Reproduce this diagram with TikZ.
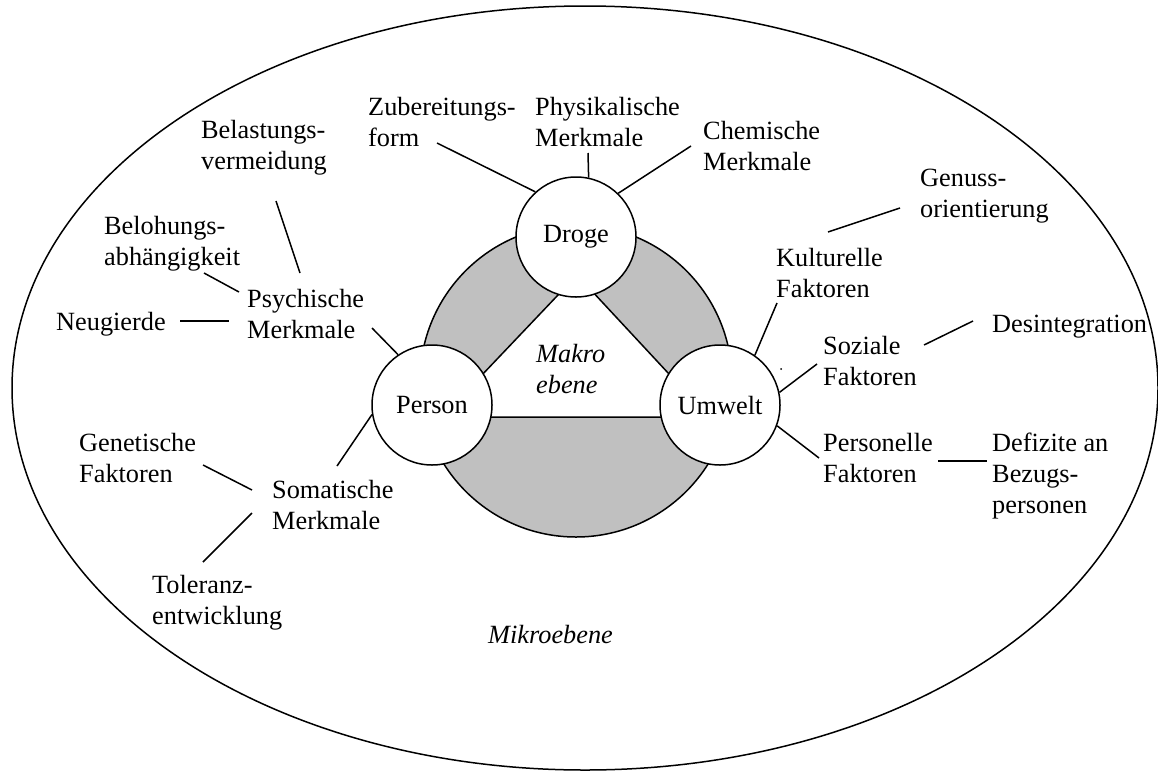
\documentclass[tikz,border=0pt]{standalone}
\usepackage{fontspec}
\setmainfont{Liberation Serif}
\definecolor{ringgray}{RGB}{192,192,192}
\begin{document}
\begin{tikzpicture}[x=1pt,y=-1pt,
  every node/.style={font=\fontsize{26.3}{31}\selectfont, inner sep=0pt},
  lab/.style={anchor=base west, align=left},
  hub/.style={circle, draw, fill=white, line width=1.5pt, minimum size=120pt, inner sep=0pt},
  conn/.style={line width=1.5pt}]
\useasboundingbox (0,0) rectangle (1158,774);
% outer ellipse (micro level)
\draw[line width=1.5pt] (585,388) ellipse [x radius=573, y radius=382];
% gray ring and white triangle
\draw[line width=1.5pt, fill=ringgray] (576,381) circle [radius=156];
\draw[line width=1.5pt, fill=white] (577,275) -- (442,417) -- (709,417) -- cycle;
% hubs
\node[hub] (droge) at (576,237) {Droge};
\node[hub] (person) at (432,405) {Person};
\node[hub] (umwelt) at (720,405) {Umwelt};
\node[lab, font=\fontsize{26.3}{31}\selectfont\itshape] (makro) at (536,393) {Makro\\ebene};
\node[lab, font=\fontsize{26.3}{31}\selectfont\itshape] (mikro) at (488,643) {Mikroebene};
% labels (anchored at the baseline of their last line)
\node[lab] (zub) at (368,146) {Zubereitungs-\\form};
\node[lab] (phys) at (535,146) {Physikalische\\Merkmale};
\node[lab] (chem) at (703,170) {Chemische\\Merkmale};
\node[lab] (belast) at (201,169) {Belastungs-\\vermeidung};
\node[lab] (belohn) at (104,265) {Belohungs-\\abhängigkeit};
\node[lab] (psych) at (247,338) {Psychische\\Merkmale};
\node[lab] (neug) at (56,330) {Neugierde};
\node[lab] (genet) at (79,482) {Genetische\\Faktoren};
\node[lab] (somat) at (272,529) {Somatische\\Merkmale};
\node[lab] (toler) at (152,624) {Toleranz-\\entwicklung};
\node[lab] (genuss) at (920,217) {Genuss-\\orientierung};
\node[lab] (kult) at (776,297) {Kulturelle\\Faktoren};
\node[lab] (soz) at (823,385) {Soziale\\Faktoren};
\node[lab] (desint) at (992,332) {Desintegration};
\node[lab] (persf) at (823,482) {Personelle\\Faktoren};
\node[lab] (defiz) at (992,513) {Defizite an\\Bezugs-\\personen};
% connector free ends
\coordinate (zubE) at (437,143);
\coordinate (physE) at (588,153);
\coordinate (chemE) at (691,146);
\coordinate (psychE) at (372,328);
\coordinate (belastE) at (276,201);
\coordinate (psychT) at (300,273);
\coordinate (belohnE) at (204,273);
\coordinate (psychL) at (239,292);
\coordinate (neugE) at (180,321);
\coordinate (psychN) at (229,321);
\coordinate (somatE) at (337,466);
\coordinate (genetE) at (203,465);
\coordinate (somatG) at (252,490);
\coordinate (somatT) at (252,513);
\coordinate (tolerE) at (203,562);
\coordinate (kultE) at (777,303);
\coordinate (kultG) at (828,232);
\coordinate (genussE) at (900,208);
\coordinate (sozE) at (817,364);
\coordinate (sozD) at (924,345);
\coordinate (desintE) at (973,321);
\coordinate (persfE) at (819,458);
\coordinate (persfD) at (938,461);
\coordinate (defizE) at (987,461);
% connectors
\draw[conn] (zubE) -- (droge.132);
\draw[conn] (physE) -- (droge.78);
\draw[conn] (chemE) -- (droge.46);
\draw[conn] (psychE) -- (person.124);
\draw[conn] (belastE) -- (psychT);
\draw[conn] (belohnE) -- (psychL);
\draw[conn] (neugE) -- (psychN);
\draw[conn] (somatE) -- (person.189);
\draw[conn] (genetE) -- (somatG);
\draw[conn] (somatT) -- (tolerE);
\draw[conn] (kultE) -- (umwelt.55);
\draw[conn] (kultG) -- (genussE);
\draw[conn] (sozE) -- (umwelt.12);
\draw[conn] (sozD) -- (desintE);
\draw[conn] (persfE) -- (umwelt.-20);
\draw[conn] (persfD) -- (defizE);
% stray dot
\fill (781,369) circle [radius=1];
\end{tikzpicture}
\end{document}
